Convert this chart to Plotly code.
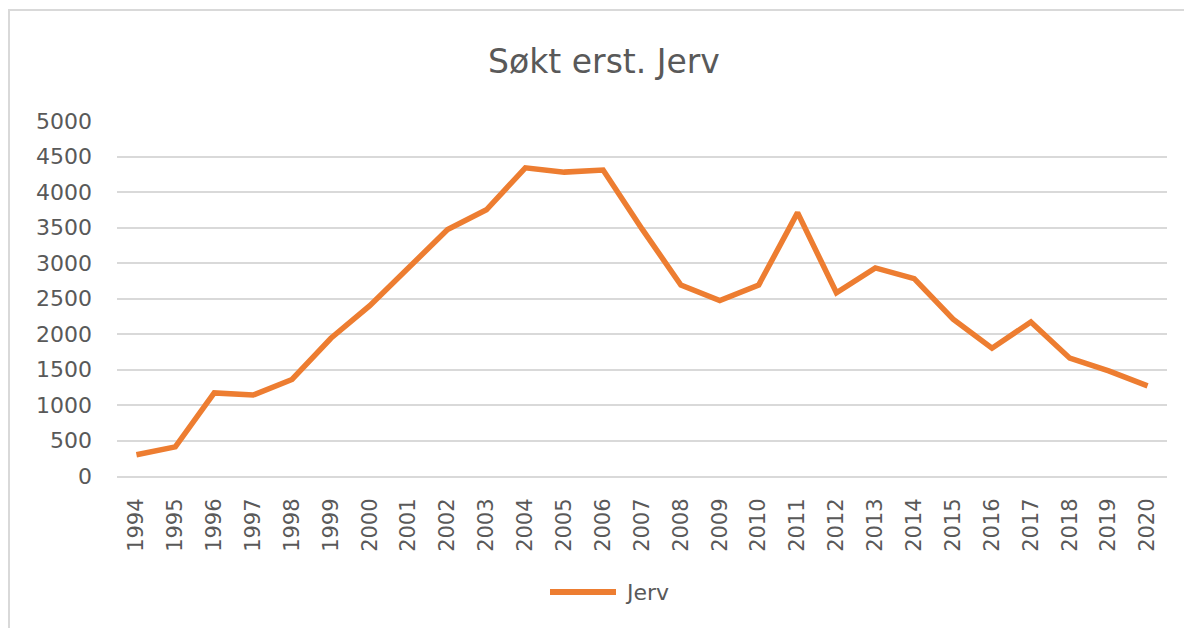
import plotly.graph_objects as go

years = [str(y) for y in range(1994, 2021)]
values = [300, 410, 1170, 1140, 1360, 1940, 2400, 2925, 3470, 3750, 4340, 4280, 4310,
          3480, 2690, 2470, 2690, 3710, 2580, 2930, 2780, 2210, 1800, 2170, 1660, 1480, 1270]
y_ticks = list(range(0, 5001, 500))
series_name = "Jerv"

OFF = 8  # page body margin
W, H = 1192 - OFF, 628 - OFF
L, T = 117 - OFF, 121 - OFF
R = W - (1167 - OFF)
B = H - (476 - OFF)
pw, ph = W - L - R, H - T - B

def px(x):
    return (x - OFF - L) / pw

def py(y):
    return (H - B - (y - OFF)) / ph

FONT = "DejaVu Sans, Open Sans, sans-serif"
GRAY = "#595959"
ORANGE = "#ED7D31"

fig = go.Figure()
fig.add_trace(go.Scatter(
    x=years, y=values, mode="lines", name=series_name, showlegend=False,
    line=dict(color=ORANGE, width=5.5, shape="linear"),
))

fig.update_layout(
    width=W, height=H,
    margin=dict(l=L, r=R, t=T, b=B),
    paper_bgcolor="white", plot_bgcolor="white",
    font=dict(family=FONT, color=GRAY),
    title=dict(text="Søkt erst. Jerv", x=(604 - OFF) / W, xanchor="center", xref="container",
               y=1 - (61 - OFF) / H, yanchor="middle", yref="container",
               font=dict(size=33, color=GRAY, family=FONT)),
    xaxis=dict(type="category", range=[-0.5, len(years) - 0.5], tickangle=-90,
               showgrid=False, showline=True, linecolor="#D9D9D9", linewidth=2,
               ticks="", tickfont=dict(size=21, color=GRAY, family=FONT),
               ticklabelstandoff=12),
    yaxis=dict(range=[0, 5000], tickvals=y_ticks, showgrid=True, gridcolor="#D9D9D9",
               gridwidth=2, zeroline=False, showline=False, ticks="",
               tickfont=dict(size=22, color=GRAY, family=FONT), ticklabelstandoff=24),
    shapes=[
        dict(type="rect", xref="paper", yref="paper",
             x0=px(OFF + 1), y0=py(700), x1=px(1260), y1=py(10),
             line=dict(color="#D9D9D9", width=2), fillcolor="rgba(0,0,0,0)",
             layer="below"),
        dict(type="line", xref="paper", yref="paper",
             x0=px(550), x1=px(616), y0=py(592), y1=py(592),
             line=dict(color=ORANGE, width=6)),
    ],
    annotations=[
        dict(text=series_name, xref="paper", yref="paper", x=px(623), y=py(592),
             xanchor="left", yanchor="middle", showarrow=False,
             font=dict(size=22, color=GRAY, family=FONT)),
    ],
)

fig.write_html("out.html")
